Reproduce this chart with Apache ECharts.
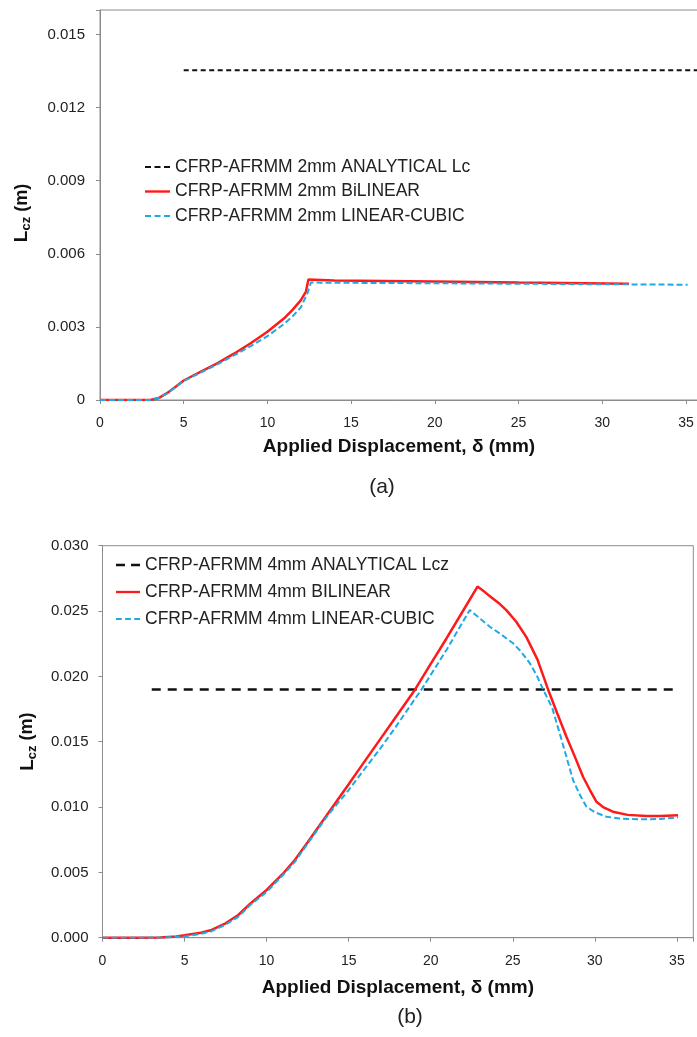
<!DOCTYPE html>
<html>
<head>
<meta charset="utf-8">
<script src="https://cdn.jsdelivr.net/npm/echarts@6/dist/echarts.min.js"></script>
<style>
  html, body { margin: 0; padding: 0; background: #fff; }
  #container { width: 697px; height: 1037px; }
</style>
</head>
<body>
<div id="container"></div>
<script>
// (a) 2mm adhesive
var dispA_bilinear = [0, 1, 2, 3, 3.5, 4, 4.5, 5, 6, 7, 8, 9, 10, 11, 11.5, 12, 12.3, 12.45, 14, 17, 20, 25, 31.6];
var lczA_bilinear = [0, 0, 0, 0, 0.00008, 0.00028, 0.00053, 0.0008, 0.00115, 0.0015, 0.0019, 0.00233, 0.0028, 0.00335, 0.0037, 0.0041, 0.00445, 0.00494, 0.0049, 0.00488, 0.00486, 0.00482, 0.00477];
var dispA_cubic = [0, 1, 2, 3, 3.5, 4, 4.5, 5, 6, 7, 8, 9, 10, 11, 11.5, 12, 12.4, 12.6, 14, 17, 20, 25, 30, 35.1];
var lczA_cubic = [0, 0, 0, 0, 0.00008, 0.00027, 0.00052, 0.00078, 0.00112, 0.00146, 0.00183, 0.00221, 0.00262, 0.00312, 0.00343, 0.0038, 0.0044, 0.00482, 0.00481, 0.0048, 0.00479, 0.00477, 0.00475, 0.00473];
var dispA_analytical = [5, 35.72];
var lczA_analytical = [0.01353, 0.01353];

// (b) 4mm adhesive
var dispB_bilinear = [0, 2, 3.5, 4.5, 5, 6, 6.65, 7.5, 8.27, 9, 10, 11, 11.72, 12.5, 13.75, 15, 15.78, 17, 17.81, 19.03, 20, 20.96, 22, 22.85, 23.3, 23.7, 24.2, 24.62, 25.2, 25.83, 26.5, 27.15, 27.7, 28.27, 28.8, 29.28, 29.7, 30.1, 30.5, 31.1, 32, 33.14, 34, 35.07];
var lczB_bilinear = [0, 0, 0.00002, 0.0001, 0.00018, 0.00038, 0.00059, 0.0011, 0.00174, 0.0026, 0.00365, 0.0049, 0.00595, 0.0073, 0.00952, 0.01175, 0.01315, 0.01533, 0.01678, 0.01896, 0.02095, 0.0229, 0.02508, 0.02687, 0.02645, 0.02603, 0.02555, 0.02505, 0.0242, 0.023, 0.0213, 0.019, 0.0172, 0.01538, 0.0138, 0.01232, 0.0113, 0.0104, 0.01, 0.00964, 0.0094, 0.00931, 0.00932, 0.00937];
var dispB_cubic = [0, 2, 4, 5, 6, 6.65, 7.5, 8.27, 9, 10, 11, 11.72, 12.5, 13.75, 15, 15.78, 17, 17.81, 19.44, 20.96, 22.38, 23.6, 24.3, 25.02, 25.5, 26.04, 26.45, 26.85, 27.4, 27.86, 28.3, 28.67, 29.1, 29.49, 30, 30.71, 31.5, 32.73, 34, 35.07];
var lczB_cubic = [0, 0, 0.00003, 0.0001, 0.0003, 0.0005, 0.001, 0.0016, 0.0025, 0.0035, 0.0048, 0.0058, 0.0072, 0.0094, 0.0113, 0.0126, 0.0146, 0.01603, 0.019, 0.02202, 0.02508, 0.0238, 0.0232, 0.02253, 0.0219, 0.021, 0.0201, 0.019, 0.0176, 0.01564, 0.0137, 0.01207, 0.0109, 0.01003, 0.0096, 0.00926, 0.00912, 0.00906, 0.00908, 0.00921];
var dispB_analytical = [3, 34.8];
var lczB_analytical = [0.019, 0.019];

var xTicks = [0, 5, 10, 15, 20, 25, 30, 35];

var FONT = 'Arial, "Liberation Sans", sans-serif';
var AXIS_GREY = '#8c8c8c';
var TEXT = '#222';

// legend icons drawn as plain line pieces (no marker)
var ICON_SOLID = 'path://M0,0h26v2.5h-26z';
var ICON_DASH3 = 'path://M0,0h6v2h-6zM9.5,0h6v2h-6zM19,0h6v2h-6z';
var ICON_DASH2 = 'path://M0,0h9v2.5h-9zM15,0h9v2.5h-9z';

function pairs(xs, ys) {
    return xs.map(function (x, i) { return [x, ys[i]]; });
}

function onStep(v, step) {
    var k = v / step;
    return Math.abs(k - Math.round(k)) < 1e-6;
}

var yName = '{l|L}{s|cz}{m| (m)}';
function yNameStyle(pad) {
    return {
        fontFamily: FONT,
        color: '#111',
        padding: pad,
        rich: {
            l: { fontSize: 19, fontWeight: 'bold', fontFamily: FONT, color: '#111' },
            s: { fontSize: 13, fontWeight: 'bold', fontFamily: FONT, color: '#111', padding: [9, 0, 0, 0] },
            m: { fontSize: 18, fontWeight: 'bold', fontFamily: FONT, color: '#111' }
        }
    };
}
var xNameStyle = { fontFamily: FONT, fontSize: 19, fontWeight: 'bold', color: '#111' };

function xAxisFor(gridIndex, max, gap) {
    return {
        type: 'value',
        gridIndex: gridIndex,
        min: 0,
        max: max,
        interval: 5,
        name: 'Applied Displacement, δ (mm)',
        nameLocation: 'middle',
        nameGap: gap,
        nameTextStyle: xNameStyle,
        splitLine: { show: false },
        axisLine: { lineStyle: { color: AXIS_GREY, width: 1 } },
        axisTick: { show: true, length: 4, lineStyle: { color: AXIS_GREY } },
        axisLabel: {
            fontFamily: FONT, fontSize: 14, color: TEXT, margin: 16,
            formatter: function (v) { return xTicks.indexOf(v) >= 0 ? String(v) : ''; }
        }
    };
}

function yAxisFor(gridIndex, max, step, fmt, gap, margin, namePad) {
    return {
        type: 'value',
        gridIndex: gridIndex,
        min: 0,
        max: max,
        interval: step,
        name: yName,
        nameLocation: 'middle',
        nameRotate: 90,
        nameGap: gap,
        nameTextStyle: yNameStyle(namePad),
        splitLine: { show: false },
        axisLine: { show: true, lineStyle: { color: AXIS_GREY, width: 1 } },
        axisTick: { show: true, length: 4, lineStyle: { color: AXIS_GREY } },
        axisLabel: {
            fontFamily: FONT, fontSize: 15, color: TEXT, margin: margin,
            formatter: function (v) { return onStep(v, step) ? fmt(v) : ''; }
        }
    };
}

var myChart = echarts.init(document.getElementById('container'));

var option = {
    animation: false,
    backgroundColor: '#fff',
    title: [
        { text: '(a)', left: 382, top: 477, textAlign: 'center', padding: 0,
          textStyle: { fontFamily: FONT, fontSize: 21, fontWeight: 'normal', color: TEXT } },
        { text: '(b)', left: 410, top: 1007, textAlign: 'center', padding: 0,
          textStyle: { fontFamily: FONT, fontSize: 21, fontWeight: 'normal', color: TEXT } }
    ],
    grid: [
        { left: 100, top: 10, right: -1, height: 390, show: true, borderColor: AXIS_GREY, borderWidth: 1,
          containLabel: false, outerBoundsMode: 'none' },
        { left: 102.5, top: 545.7, right: 3.7, height: 392, show: true, borderColor: AXIS_GREY, borderWidth: 1,
          containLabel: false, outerBoundsMode: 'none' }
    ],
    legend: [
        {
            orient: 'vertical', left: 145, top: 157, padding: 0,
            itemWidth: 25, itemHeight: 2.5, itemGap: 4.5,
            textStyle: { fontFamily: FONT, fontSize: 17.5, color: TEXT, lineHeight: 20 },
            data: [
                { name: 'CFRP-AFRMM 2mm ANALYTICAL Lc', icon: ICON_DASH3 },
                { name: 'CFRP-AFRMM 2mm BiLINEAR', icon: ICON_SOLID },
                { name: 'CFRP-AFRMM 2mm LINEAR-CUBIC', icon: ICON_DASH3 }
            ]
        },
        {
            orient: 'vertical', left: 116, top: 555, padding: 0,
            itemWidth: 24, itemHeight: 2.5, itemGap: 7,
            textStyle: { fontFamily: FONT, fontSize: 17.5, color: TEXT, lineHeight: 20 },
            data: [
                { name: 'CFRP-AFRMM 4mm ANALYTICAL Lcz', icon: ICON_DASH2 },
                { name: 'CFRP-AFRMM 4mm BILINEAR', icon: ICON_SOLID },
                { name: 'CFRP-AFRMM 4mm LINEAR-CUBIC', icon: ICON_DASH3 }
            ]
        }
    ],
    xAxis: [
        xAxisFor(0, 35.72, 37),
        xAxisFor(1, 36, 41)
    ],
    yAxis: [
        yAxisFor(0, 0.016, 0.003, function (v) { return v === 0 ? '0' : v.toFixed(3); }, 67, 15, [0, 16, 0, 0]),
        yAxisFor(1, 0.03, 0.005, function (v) { return v.toFixed(3); }, 64, 14, 0)
    ],
    series: [
        {
            name: 'CFRP-AFRMM 2mm ANALYTICAL Lc', type: 'line', xAxisIndex: 0, yAxisIndex: 0,
            showSymbol: false, symbol: 'none',
            lineStyle: { color: '#111', width: 2, type: [5, 3.5] },
            itemStyle: { color: '#111' },
            data: pairs(dispA_analytical, lczA_analytical)
        },
        {
            name: 'CFRP-AFRMM 2mm BiLINEAR', type: 'line', xAxisIndex: 0, yAxisIndex: 0,
            showSymbol: false, symbol: 'none',
            lineStyle: { color: '#ff1a1a', width: 2.5 },
            itemStyle: { color: '#ff1a1a' },
            data: pairs(dispA_bilinear, lczA_bilinear)
        },
        {
            name: 'CFRP-AFRMM 2mm LINEAR-CUBIC', type: 'line', xAxisIndex: 0, yAxisIndex: 0,
            showSymbol: false, symbol: 'none',
            lineStyle: { color: '#1fa9e6', width: 2, type: [6, 3] },
            itemStyle: { color: '#1fa9e6' },
            data: pairs(dispA_cubic, lczA_cubic)
        },
        {
            name: 'CFRP-AFRMM 4mm ANALYTICAL Lcz', type: 'line', xAxisIndex: 1, yAxisIndex: 1,
            showSymbol: false, symbol: 'none',
            lineStyle: { color: '#111', width: 2.5, type: [9, 7] },
            itemStyle: { color: '#111' },
            data: pairs(dispB_analytical, lczB_analytical)
        },
        {
            name: 'CFRP-AFRMM 4mm BILINEAR', type: 'line', xAxisIndex: 1, yAxisIndex: 1,
            showSymbol: false, symbol: 'none',
            lineStyle: { color: '#ff1a1a', width: 2.5 },
            itemStyle: { color: '#ff1a1a' },
            data: pairs(dispB_bilinear, lczB_bilinear)
        },
        {
            name: 'CFRP-AFRMM 4mm LINEAR-CUBIC', type: 'line', xAxisIndex: 1, yAxisIndex: 1,
            showSymbol: false, symbol: 'none',
            lineStyle: { color: '#1fa9e6', width: 2, type: [6, 3] },
            itemStyle: { color: '#1fa9e6' },
            data: pairs(dispB_cubic, lczB_cubic)
        }
    ]
};

myChart.setOption(option);
</script>
</body>
</html>
